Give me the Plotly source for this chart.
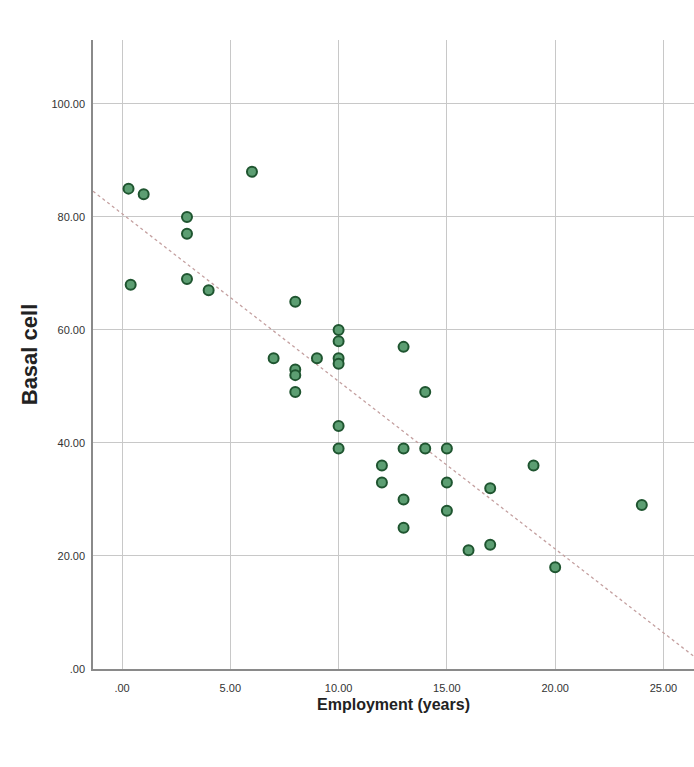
import numpy as np
import plotly.graph_objects as go

employment = [0.3, 1, 0.4, 3, 3, 3, 4, 6, 8, 7, 8, 8, 8, 9, 10, 10, 10, 10, 10, 10,
              13, 14, 13, 14, 15, 12, 12, 15, 13, 13, 15, 17, 16, 17, 19, 20, 24]
basal = [85, 84, 68, 80, 77, 69, 67, 88, 65, 55, 53, 52, 49, 55, 60, 58, 55, 54, 43, 39,
         57, 49, 39, 39, 39, 36, 33, 33, 30, 25, 28, 32, 21, 22, 36, 18, 29]

x_ticks = [0, 5, 10, 15, 20, 25]
x_labels = [".00", "5.00", "10.00", "15.00", "20.00", "25.00"]
y_ticks = [0, 20, 40, 60, 80, 100]
y_labels = [".00", "20.00", "40.00", "60.00", "80.00", "100.00"]

x_range = [-1.34, 26.41]
y_range = [0, 111.3]

slope, intercept = np.polyfit(employment, basal, 1)
fit_x = np.array(x_range)
fit_y = intercept + slope * fit_x

tick_font = dict(family="Liberation Sans Narrow, Arial Narrow, Liberation Sans", size=11, color="#333333")

fig = go.Figure()
fig.add_trace(go.Scatter(
    x=fit_x, y=fit_y, mode="lines",
    line=dict(color="#c4a0a0", width=1.3, dash="dot"),
    showlegend=False, hoverinfo="skip"))
fig.add_trace(go.Scatter(
    x=employment, y=basal, mode="markers",
    marker=dict(size=10, color="#5c9e72", line=dict(color="#1f5530", width=2)),
    showlegend=False))

fig.update_layout(
    width=694, height=767,
    margin=dict(l=93, r=0, t=40, b=98),
    paper_bgcolor="white", plot_bgcolor="white",
    xaxis=dict(range=x_range, tickvals=x_ticks, ticktext=x_labels,
               showgrid=True, gridcolor="#c8c8c8", gridwidth=1,
               zeroline=False, showline=True, linecolor="#8a8a8a", linewidth=1.5,
               ticks="", tickfont=tick_font, ticklabelstandoff=8,
               title=dict(text="<b>Employment (years)</b>", standoff=6,
                          font=dict(family="Liberation Sans Narrow, Arial Narrow, Liberation Sans", size=16, color="#222222"))),
    yaxis=dict(range=y_range, tickvals=y_ticks, ticktext=y_labels,
               showgrid=True, gridcolor="#c8c8c8", gridwidth=1,
               zeroline=False, showline=True, linecolor="#8a8a8a", linewidth=1.5,
               ticks="", tickfont=tick_font, ticklabelstandoff=4,
               title=dict(text="<b>Basal cell</b>", standoff=8,
                          font=dict(family="Liberation Sans, Arial", size=22, color="#222222"))),
)

fig.write_html("out.html")
